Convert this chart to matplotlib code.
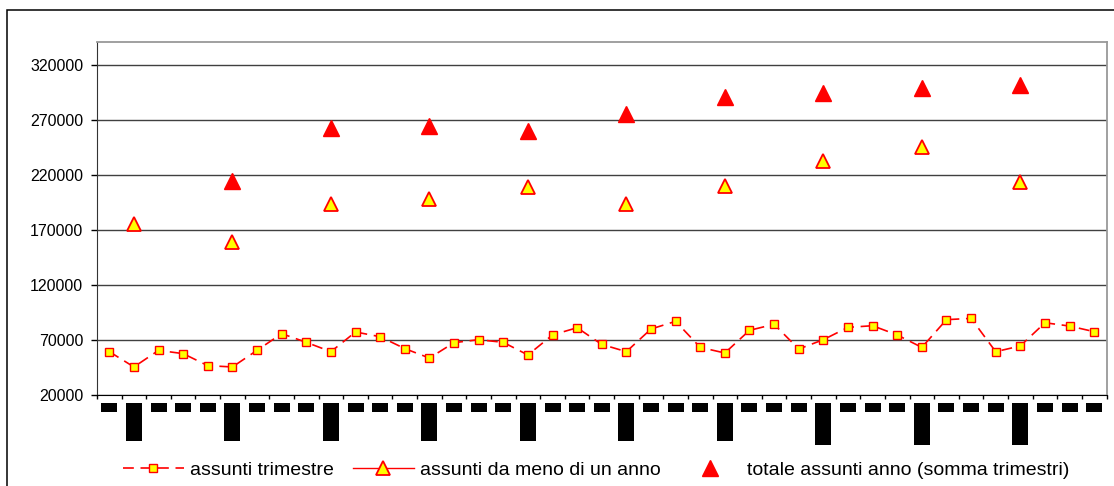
import numpy as np
import matplotlib.pyplot as plt
from matplotlib.patches import Rectangle

plt.rcParams['font.family'] = ['Liberation Sans', 'DejaVu Sans']

# assunti per trimestre (41 trimestri)
assunti_trimestre = [59400, 45500, 60600, 57600, 46700, 45500, 60600, 75800,
                     67900, 59400, 77300, 73000, 62200, 53600, 67600, 70300,
                     67900, 56400, 74600, 81200, 66000, 59400, 80000, 87000,
                     63300, 58200, 78800, 84300, 61800, 70300, 81500, 83000,
                     74600, 63300, 88500, 89700, 59400, 64600, 85700, 82700,
                     77600]

# trimestri di chiusura anno
fine_anno = [1, 5, 9, 13, 17, 21, 25, 29, 33, 37]
meno_di_un_anno = [175700, 159400, 193700, 198200, 209100,
                   193900, 210500, 232700, 245300, 213400]
totale_anno = [None, 214800, 263000, 264500, 260500,
               275700, 290900, 295000, 299100, 301800]

# segni sotto l'asse delle categorie
segni = [1, 4.5, 1, 1, 1, 4.5, 1, 1, 1, 4.5, 1, 1, 1, 4.5, 1, 1, 1, 4.5,
         1, 1, 1, 4.5, 1, 1, 1, 4.5, 1, 1, 1, 4.95, 1, 1, 1, 4.95, 1, 1,
         1, 4.95, 1, 1, 1]

yticks = [20000, 70000, 120000, 170000, 220000, 270000, 320000]

n = len(assunti_trimestre)
x = np.arange(n)
meno = np.full(n, np.nan)
tot = np.full(n, np.nan)
for i, k in enumerate(fine_anno):
    meno[k] = meno_di_un_anno[i]
    if totale_anno[i] is not None:
        tot[k] = totale_anno[i]

W, H = 1114, 486
fig = plt.figure(figsize=(W / 100, H / 100), dpi=100)

# cornice esterna
fig.add_artist(Rectangle((7 / W, -0.1), 1.2, 1.1 - 10 / H,
                         transform=fig.transFigure, fill=False,
                         edgecolor='black', lw=1.1))

ax = fig.add_axes([97 / W, 1 - 395 / H, 1009.5 / W, 353 / H])
ax.plot(x, assunti_trimestre, color='red', lw=1.2, dashes=(6.5, 4),
        marker='s', ms=5.5, mfc='yellow', mec='red', mew=1.0,
        label='assunti trimestre')
ax.plot(x, meno, color='red', lw=1.0, marker='^', ms=9.5, mfc='yellow',
        mec='red', mew=1.3, label='assunti da meno di un anno')
ax.plot(x, tot, ls='none', marker='^', ms=12, color='red',
        label='totale assunti anno (somma trimestri)')

ax.set_xlim(-0.5, n - 0.5)
ax.set_ylim(20000, 341000)
ax.set_yticks(yticks)
ax.set_yticklabels([str(v) for v in yticks], fontsize=11.5)
ax.set_xticks(np.arange(n + 1) - 0.5)
ax.set_xticklabels([])
ax.tick_params(axis='y', length=4, width=1, pad=6)
ax.tick_params(axis='x', length=3, width=1)
ax.yaxis.grid(True, color='#404040', lw=1)
ax.set_axisbelow(True)
for side in ('top', 'right'):
    ax.spines[side].set_color('#999999')
    ax.spines[side].set_linewidth(1.3)
ax.spines['left'].set_color('#333333')
ax.spines['bottom'].set_color('black')

# segni delle categorie sotto l'asse
axs = fig.add_axes([97 / W, 1 - 445 / H, 1009.5 / W, 41.7 / H])
axs.bar(x, segni, width=0.65, color='black')
axs.set_xlim(-0.5, n - 0.5)
axs.set_ylim(5, 0)
axs.axis('off')

fig.legend(loc='center', bbox_to_anchor=(596 / W, 1 - 470 / H), ncol=3,
           frameon=False, fontsize=14, handlelength=3.15,
           handletextpad=0.32, columnspacing=0.95)

fig.savefig('out.png', dpi=100)
